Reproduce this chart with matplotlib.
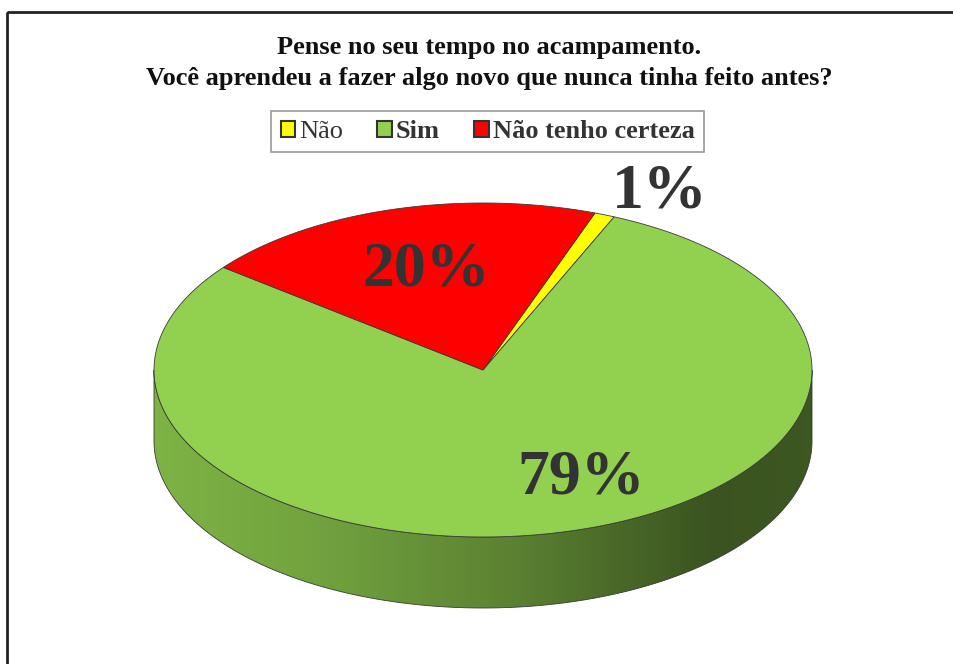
import numpy as np
import matplotlib
matplotlib.use("Agg")
import matplotlib.pyplot as plt
from matplotlib.patches import Polygon, Patch, Rectangle
from matplotlib.colors import to_rgb

# data
labels = ["Não", "Sim", "Não tenho certeza"]
values = [1, 79, 20]
colors = ["#FFFF00", "#92D050", "#FF0000"]
title = "Pense no seu tempo no acampamento.\nVocê aprendeu a fazer algo novo que nunca tinha feito antes?"

# layout (pixel space)
W, H = 954, 664
cx, cy = 483, 370
rx, ry = 329, 167
depth = 71
start = 70.1          # degrees, slices go clockwise like Excel
label_r = [1.22, 0.68, 0.66]
label_nudge = [-4, 11, 0]

plt.rcParams['font.family'] = ['Liberation Serif', 'DejaVu Serif']

fig = plt.figure(figsize=(W / 100, H / 100), dpi=100)
ax = fig.add_axes([0, 0, 1, 1])
ax.set_xlim(0, W)
ax.set_ylim(H, 0)
ax.axis("off")


def pt(t, dy=0.0):
    t = np.radians(t)
    return np.column_stack([cx + rx * np.cos(t), cy - ry * np.sin(t) + dy])


# slice angles
fr = np.array(values, dtype=float) / sum(values)
ends = start - np.cumsum(fr) * 360
starts = np.concatenate([[start], ends[:-1]])

# side walls (only the front half, 180..360 deg)
for a0, a1, col in zip(starts, ends, colors):
    hi, lo = a0, a1
    for k in range(-1, 2):
        s0 = max(lo, 180 + 360 * k)
        s1 = min(hi, 360 + 360 * k)
        if s1 <= s0:
            continue
        t = np.linspace(s0, s1, 200)
        poly = np.vstack([pt(t), pt(t[::-1], depth)])
        p = Polygon(poly, closed=True, facecolor="none", edgecolor="#3a3a3a", lw=0.6, zorder=2)
        ax.add_patch(p)
        # horizontal shading gradient
        xs = np.linspace(0, 1, 400)
        shade = np.interp(xs, [0, 0.25, 0.55, 0.85, 1.0], [0.86, 0.78, 0.62, 0.40, 0.42])
        base = np.array(to_rgb(col))
        img = (shade[:, None] * base[None, :])[None, :, :]
        im = ax.imshow(img, extent=[cx - rx, cx + rx, cy + ry + depth + 5, cy - 5],
                       aspect="auto", zorder=1.5, interpolation="bilinear")
        im.set_clip_path(p)

# top face
for a0, a1, col in zip(starts, ends, colors):
    t = np.linspace(a0, a1, 300)
    poly = np.vstack([[cx, cy], pt(t)])
    ax.add_patch(Polygon(poly, closed=True, facecolor=col, edgecolor="#3a3a3a", lw=0.6, zorder=3))

# data labels
for a0, a1, v, r, nd in zip(starts, ends, values, label_r, label_nudge):
    m = np.radians((a0 + a1) / 2 + nd)
    x = cx + r * rx * np.cos(m)
    y = cy - r * ry * np.sin(m)
    ax.text(x + 3, y + 6, f"{v}%", ha="center", va="center", fontsize=46,
            fontweight="bold", color="#333333", zorder=5)

# title
ax.text(489, 63, title, ha="center", va="center", fontsize=19,
        fontweight="bold", color="#111111", linespacing=1.45)

# legend
handles = [Patch(facecolor=c, edgecolor="#333333", lw=1.5) for c in colors]
leg = fig.legend(handles, labels, loc="center", bbox_to_anchor=(0.511, 0.802),
                 ncol=3, frameon=True, fancybox=False, fontsize=19,
                 handlelength=0.55, handleheight=0.55, handletextpad=0.15,
                 columnspacing=1.3, borderpad=0.35, borderaxespad=0)
leg.get_frame().set_edgecolor("#808080")
leg.get_frame().set_linewidth(1.2)
for i, txt in enumerate(leg.get_texts()):
    txt.set_color("#333333")
    if i > 0:
        txt.set_fontweight("bold")

# chart area border
ax.add_patch(Rectangle((7, 12), W + 20, H + 20, fill=False, edgecolor="#222222", lw=2, zorder=6))

fig.savefig("out.png", dpi=100)
